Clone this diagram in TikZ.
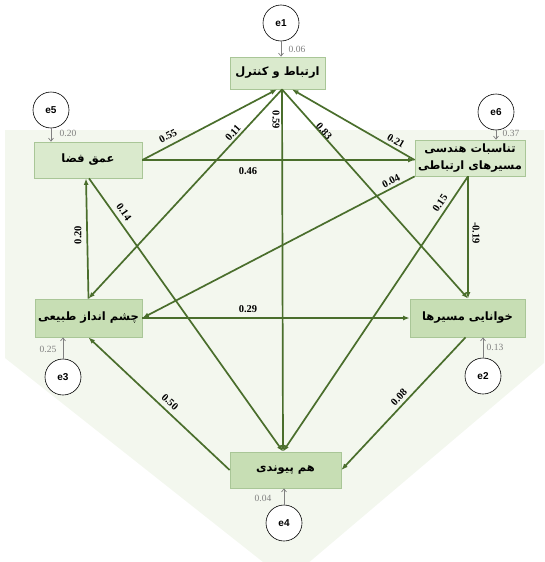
\documentclass[tikz,border=0pt]{standalone}
\usepackage{fontspec}
\setmainfont{Liberation Serif}
\newfontfamily\persfont[Script=Arabic]{DejaVu Sans}
\newfontfamily\esans{Liberation Sans}
\TeXXeTstate=1
\usetikzlibrary{arrows.meta}
\definecolor{pathgreen}{HTML}{4A6E2C}
\definecolor{bgcol}{HTML}{F3F7EE}
\definecolor{boxlight}{HTML}{DAEACD}
\definecolor{boxdark}{HTML}{C7DEB4}
\definecolor{boxborder}{HTML}{A9C697}
\definecolor{errgray}{HTML}{808080}
\tikzset{
  varbox/.style={draw=boxborder, line width=0.8pt, inner sep=0pt, align=center,
    font=\persfont\bfseries\fontsize{11.5}{17.5}\selectfont},
  lightbox/.style={varbox, fill=boxlight},
  darkbox/.style={varbox, fill=boxdark},
  errc/.style={circle, draw=black, line width=0.6pt, fill=white, minimum size=36pt,
    inner sep=0pt, font=\esans\bfseries\fontsize{10}{12}\selectfont},
  errarrow/.style={draw=errgray, line width=0.7pt, -{Straight Barb[length=3pt,width=5pt]}},
  errlab/.style={text=errgray, inner sep=0pt, font=\fontsize{9.5}{11}\selectfont},
  patharrow/.style={draw=pathgreen, line width=1.7pt, -{Latex[length=6.5pt,width=5pt]}},
  coef/.style={inner sep=0pt, font=\bfseries\fontsize{10.5}{12}\selectfont}
}
\begin{document}
\begin{tikzpicture}[x=1pt,y=-1pt]
\useasboundingbox (0,0) rectangle (544,562);
\begin{scope}
\clip (0,0) rectangle (544,562);
\fill[bgcol] (5,130) -- (544,130) -- (544,363) -- (287,581) -- (5,358) -- cycle;
\end{scope}

% variable boxes
\node[lightbox, minimum width=95pt, minimum height=32pt] (A) at (277.5,73) {\beginR ارتباط و کنترل\endR};
\node[lightbox, minimum width=108pt, minimum height=36pt] (B) at (88,160) {\beginR عمق فضا\endR};
\node[lightbox, minimum width=110pt, minimum height=36pt] (C) at (470,158) {\beginR تناسبات هندسی\endR\\\beginR مسیرهای ارتباطی\endR};
\node[darkbox, minimum width=107pt, minimum height=38pt] (D) at (88.5,318) {\beginR چشم انداز طبیعی\endR};
\node[darkbox, minimum width=115pt, minimum height=38pt] (E) at (467.5,318) {\beginR خوانایی مسیرها\endR};
\node[darkbox, minimum width=111pt, minimum height=36pt] (F) at (285.5,470) {\beginR هم پیوندی\endR};

% error terms
\node[errc] (e1) at (281,23) {e1};
\node[errc] (e5) at (51,110) {e5};
\node[errc] (e6) at (496,112) {e6};
\node[errc] (e3) at (63,377) {e3};
\node[errc] (e2) at (483,376) {e2};
\node[errc] (e4) at (284,523) {e4};

\draw[errarrow] (e1) -- (A.north -| e1);
\draw[errarrow] (e5) -- (B.north -| e5);
\draw[errarrow] (e6) -- (C.north -| e6);
\draw[errarrow] (e3) -- (D.south -| e3);
\draw[errarrow] (e2) -- (E.south -| e2);
\draw[errarrow] (e4) -- (F.south -| e4);

\node[errlab] (v1) at (297,49) {0.06};
\node[errlab] (v5) at (68,133) {0.20};
\node[errlab] (v6) at (511,133) {0.37};
\node[errlab] (v3) at (48,349) {0.25};
\node[errlab] (v2) at (495,347) {0.13};
\node[errlab] (v4) at (263,498) {0.04};

% anchor points
\coordinate (Aout) at ([xshift=4.5pt]A.south);
\coordinate (Ain1) at ([xshift=-0.5pt]A.south);
\coordinate (Ain2) at ([xshift=14.5pt]A.south);
\coordinate (Cin) at ([yshift=-2pt]C.west);
\coordinate (Cout) at ([xshift=-2pt]C.south);
\coordinate (Ein) at ([xshift=0.5pt]E.north);
\coordinate (Eout) at ([xshift=-2pt]E.south);
\coordinate (Fin) at ([xshift=-2.5pt]F.north);
\coordinate (Bin) at ([xshift=-2pt]B.south);
\coordinate (Bout) at ([xshift=1pt]B.south);

% structural paths
\draw[patharrow] (B.east) -- (Ain1);
\draw[patharrow] (B.east) -- (Cin);
\draw[patharrow] (Aout) -- (D.north);
\draw[patharrow] (Aout) -- (Fin);
\draw[patharrow] (Aout) -- (Ein);
\draw[patharrow] (Cin) -- (Ain2);
\draw[patharrow] (C.south west) -- (D.east);
\draw[patharrow] (Cout) -- (Fin);
\draw[patharrow] (Cout) -- (Ein);
\draw[patharrow] (D.east) -- (E.west);
\draw[patharrow] (D.north) -- (Bin);
\draw[patharrow] (Bout) -- (Fin);
\draw[patharrow] (F.west) -- (D.south);
\draw[patharrow] (Eout) -- (F.east);

% coefficients
\node[coef, rotate=28] (c055) at (168,136) {0.55};
\node[coef, rotate=48] (c011) at (233,133) {0.11};
\node[coef, rotate=-90] (c059) at (276,120) {0.59};
\node[coef, rotate=-49] (c083) at (324,131) {0.83};
\node[coef, rotate=-30] (c021) at (396,141) {0.21};
\node[coef] (c046) at (248,171) {0.46};
\node[coef, rotate=27] (c004) at (391,181) {0.04};
\node[coef, rotate=56] (c015) at (440,203) {0.15};
\node[coef, rotate=-90] (c019) at (476,233) {-0.19};
\node[coef, rotate=90] (c020) at (78,235) {0.20};
\node[coef, rotate=-55] (c014) at (124,212) {0.14};
\node[coef] (c029) at (248,309) {0.29};
\node[coef, rotate=-43] (c050) at (170,402) {0.50};
\node[coef, rotate=47] (c008) at (399,397) {0.08};
\end{tikzpicture}
\end{document}
